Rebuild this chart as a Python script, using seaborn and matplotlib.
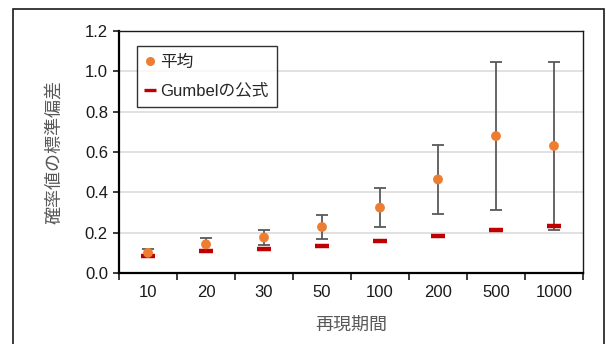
"""Standard deviation of probability values per return period."""

import matplotlib
matplotlib.use("Agg")
import matplotlib.pyplot as plt
import numpy as np
import pandas as pd
import seaborn as sns
from matplotlib.lines import Line2D
from matplotlib.patches import Rectangle

# Data
periods = ["10", "20", "30", "50", "100", "200", "500", "1000"]
mean_sd = [0.100, 0.142, 0.176, 0.228, 0.324, 0.464, 0.679, 0.630]
err_upper = [0.117, 0.173, 0.213, 0.287, 0.421, 0.635, 1.048, 1.048]
err_lower = [0.090, 0.110, 0.140, 0.167, 0.227, 0.293, 0.311, 0.214]
gumbel_sd = [0.083, 0.107, 0.117, 0.132, 0.157, 0.182, 0.212, 0.232]

sns.set_theme(style="white")
plt.rcParams["font.family"] = ["Liberation Sans", "Noto Sans CJK JP", "DejaVu Sans"]

df = pd.DataFrame({
    "period": periods,
    "mean": mean_sd,
    "upper": err_upper,
    "lower": err_lower,
    "gumbel": gumbel_sd,
})
df["pos"] = np.arange(len(df))

fig = plt.figure(figsize=(6.06, 3.44), dpi=100)
ax = fig.add_axes([0.1964, 0.2064, 0.7656, 0.7035])

# outer chart border (bottom runs off the image, as in the reference)
fig.patches.append(Rectangle((0.0215, -0.1), 0.975, 1.074, transform=fig.transFigure,
                             fill=False, edgecolor="#1a1a1a", linewidth=1.2))

# error bars
ax.errorbar(
    df["pos"], df["mean"],
    yerr=[df["mean"] - df["lower"], df["upper"] - df["mean"]],
    fmt="none", ecolor="#595959", elinewidth=1.3, capsize=4.3, capthick=1.3, zorder=2,
)

# Gumbel formula as short red dashes
sns.scatterplot(data=df, x="pos", y="gumbel", marker="_", s=110, linewidth=3.2,
                color="#C00000", ax=ax, zorder=3, legend=False)
# mean values
sns.scatterplot(data=df, x="pos", y="mean", s=50, color="#ED7D31", edgecolor="none",
                ax=ax, zorder=4, legend=False)

ax.set_xlim(-0.5, len(df) - 0.5)
ax.set_ylim(0, 1.2)
ax.set_yticks(np.arange(0, 1.21, 0.2))
ax.set_yticklabels([f"{v:.1f}" for v in np.arange(0, 1.21, 0.2)])
ax.set_xticks(df["pos"])
ax.set_xticklabels(df["period"])
ax.set_xticks(np.arange(-0.5, len(df)), minor=True)

ax.yaxis.grid(True, color="#D9D9D9", linewidth=1.1)
ax.set_axisbelow(True)

ax.tick_params(axis="x", which="major", length=0, pad=9, labelsize=12, labelcolor="#1a1a1a")
ax.tick_params(axis="x", which="minor", length=5, width=1.2, color="#1a1a1a", direction="out")
ax.tick_params(axis="y", length=4, width=1.2, color="#1a1a1a", direction="out", pad=4,
               labelsize=12, labelcolor="#1a1a1a")
ax.xaxis.set_ticks_position("bottom")
ax.yaxis.set_ticks_position("left")

for side in ["left", "bottom"]:
    ax.spines[side].set_color("#000000")
    ax.spines[side].set_linewidth(1.6)
for side in ["top", "right"]:
    ax.spines[side].set_color("#1a1a1a")
    ax.spines[side].set_linewidth(1.0)

ax.set_xlabel("再現期間", fontsize=13, color="#595959", labelpad=12)
ax.set_ylabel("確率値の標準偏差", fontsize=13, color="#595959", labelpad=16)

handles = [
    Line2D([], [], linestyle="none", marker="o", markersize=6.5,
           markerfacecolor="#ED7D31", markeredgecolor="none"),
    Line2D([], [], linestyle="none", marker="_", markersize=8,
           markeredgewidth=2.4, color="#C00000"),
]
leg = ax.legend(handles, ["平均", "Gumbelの公式"], loc="upper left",
                bbox_to_anchor=(0.039, 0.938), borderaxespad=0, frameon=True,
                fancybox=False, edgecolor="#000000", fontsize=12,
                handlelength=0.6, handletextpad=0.3, labelspacing=0.85,
                borderpad=0.5)
leg.get_frame().set_linewidth(1.0)

fig.savefig("out.png", dpi=100)
plt.close(fig)
